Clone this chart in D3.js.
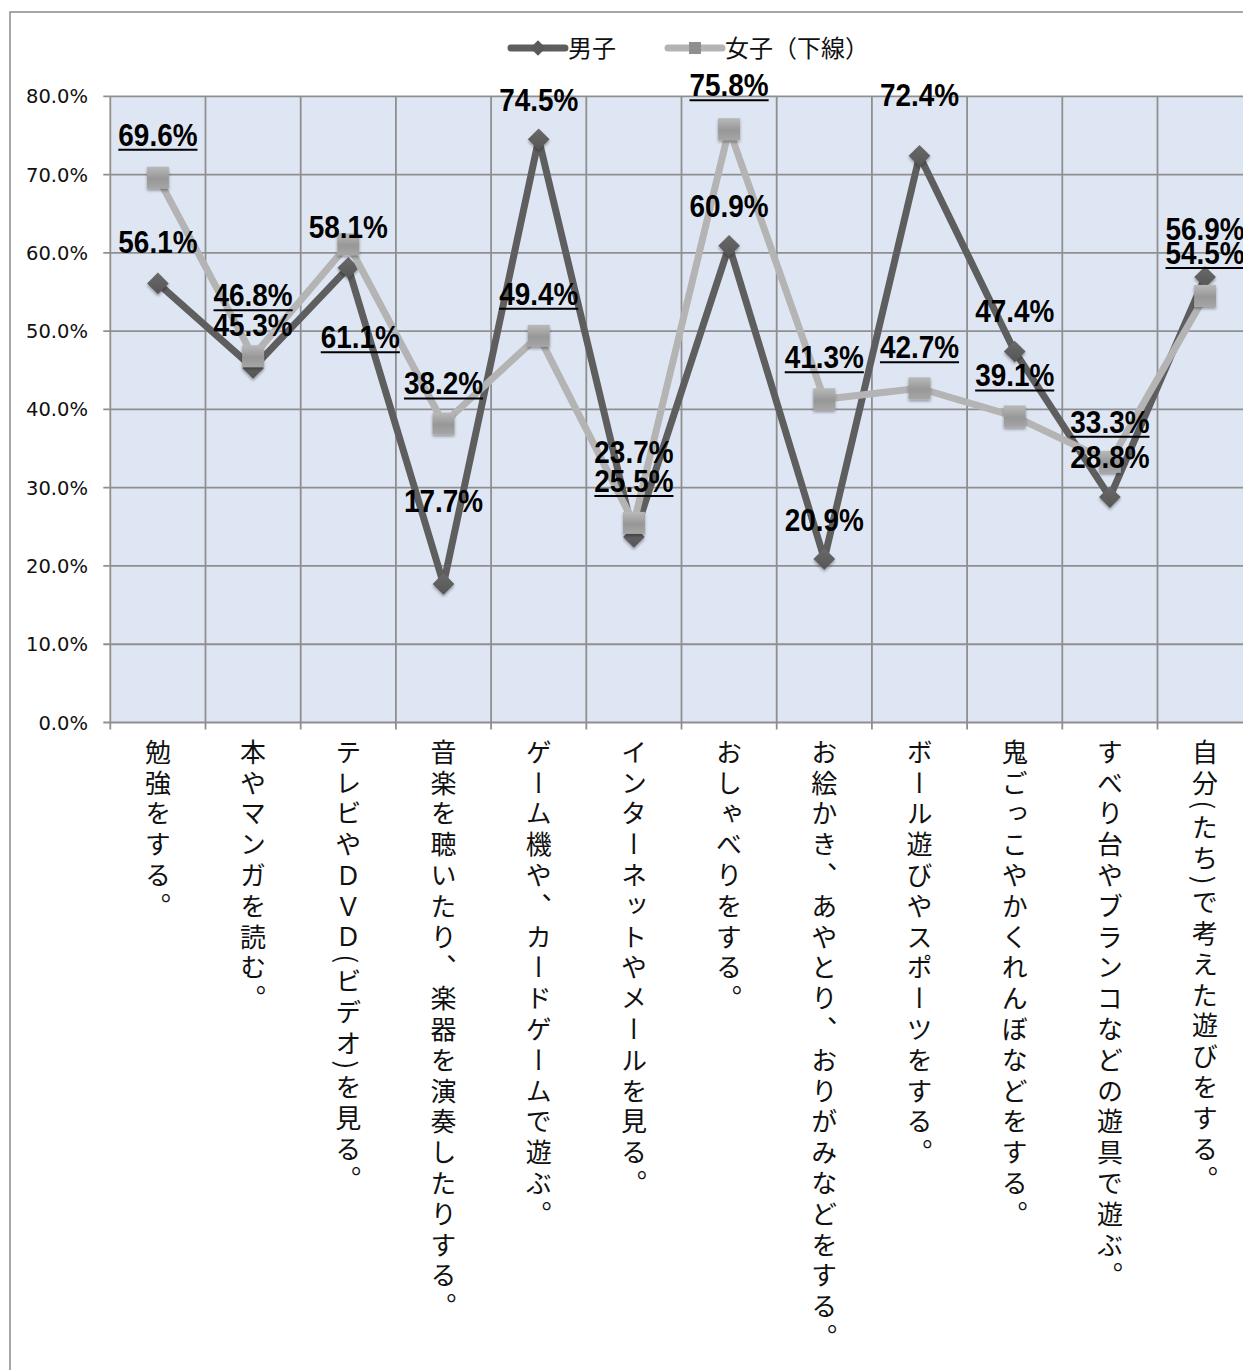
<!DOCTYPE html>
<html lang="ja">
<head>
<meta charset="utf-8">
<script src="https://cdn.jsdelivr.net/npm/d3@7/dist/d3.min.js"></script>
<style>
  html, body { margin: 0; padding: 0; background: #fff; }
  svg { display: block; }
  .cat { font-family: "Noto Sans CJK JP", sans-serif; font-size: 26px; fill: #111;
         writing-mode: vertical-rl; letter-spacing: 4.8px; }
  .ytick { font-family: "DejaVu Sans", sans-serif; font-size: 19.5px; fill: #111; }
  .legend { font-family: "Noto Sans CJK JP", sans-serif; font-size: 24px; fill: #111; }
  .val { font-family: "Liberation Sans", Arial, sans-serif; font-weight: bold; font-size: 31px; fill: #000; }
</style>
</head>
<body>
<svg id="chart" width="1243" height="1370"></svg>
<script>
// 放課後の過ごし方（男子・女子の割合）
const categories = [
  "勉強をする。",
  "本やマンガを読む。",
  "テレビやＤＶＤ(ビデオ)を見る。",
  "音楽を聴いたり、楽器を演奏したりする。",
  "ゲーム機や、カードゲームで遊ぶ。",
  "インターネットやメールを見る。",
  "おしゃべりをする。",
  "お絵かき、あやとり、おりがみなどをする。",
  "ボール遊びやスポーツをする。",
  "鬼ごっこやかくれんぼなどをする。",
  "すべり台やブランコなどの遊具で遊ぶ。",
  "自分(たち)で考えた遊びをする。"
];
const boys  = [56.1, 45.3, 58.1, 17.7, 74.5, 23.7, 60.9, 20.9, 72.4, 47.4, 28.8, 56.9];
const girls = [69.6, 46.8, 61.1, 38.2, 49.4, 25.5, 75.8, 41.3, 42.7, 39.1, 33.3, 54.5];
const yTicks = [0, 10, 20, 30, 40, 50, 60, 70, 80];
const seriesNames = ["男子", "女子（下線）"];

// Data-label placement relative to each marker (pixels)
const boysLabelDy  = [-41, -43, -41, -83, -39, -85, -40, -39, -61, -40, -40, -48];
const girlsLabelDy = [-43, -61,  93, -40, -42, -42, -44, -42, -41, -41, -40, -43];
const girlsLabelDx = [  0,   0,  12,   0,   0,   0,   0,   0,   0,   0,   0,   0];

const svg = d3.select("#chart");
const plot = { left: 110.3, top: 96.3, bottom: 722.5, band: 95.2 };

const x = d3.scaleBand()
  .domain(categories)
  .range([plot.left, plot.left + plot.band * categories.length])
  .padding(0);
const y = d3.scaleLinear().domain([0, 80]).range([plot.bottom, plot.top]);
const cx = d => x(d) + x.bandwidth() / 2;
const pct = v => d3.format(".1f")(v) + "%";

// defs: marker gradients and soft shadow
const defs = svg.append("defs");
const gSq = defs.append("linearGradient").attr("id", "sqGrad").attr("x1", 0).attr("y1", 0).attr("x2", 0).attr("y2", 1);
gSq.append("stop").attr("offset", "0%").attr("stop-color", "#b9b9b9");
gSq.append("stop").attr("offset", "55%").attr("stop-color", "#979797");
gSq.append("stop").attr("offset", "100%").attr("stop-color", "#a6a6a6");
const gDi = defs.append("linearGradient").attr("id", "diGrad").attr("x1", 0).attr("y1", 0).attr("x2", 0).attr("y2", 1);
gDi.append("stop").attr("offset", "0%").attr("stop-color", "#6a6a6a");
gDi.append("stop").attr("offset", "100%").attr("stop-color", "#555555");
const f = defs.append("filter").attr("id", "soft").attr("x", "-40%").attr("y", "-40%").attr("width", "180%").attr("height", "180%");
f.append("feGaussianBlur").attr("in", "SourceAlpha").attr("stdDeviation", 1.6).attr("result", "b");
f.append("feOffset").attr("in", "b").attr("dx", 0).attr("dy", 2).attr("result", "o");
f.append("feComponentTransfer").attr("in", "o").attr("result", "s")
  .append("feFuncA").attr("type", "linear").attr("slope", 0.35);
f.append("feGaussianBlur").attr("in", "SourceGraphic").attr("stdDeviation", 0.6).attr("result", "g");
const fm = f.append("feMerge");
fm.append("feMergeNode").attr("in", "s");
fm.append("feMergeNode").attr("in", "g");

// chart frame
svg.append("rect").attr("x", 10).attr("y", 12).attr("width", 1400).attr("height", 1500)
  .attr("fill", "#fff").attr("stroke", "#8a8a8a").attr("stroke-width", 1.5);

// plot background
svg.append("rect")
  .attr("x", plot.left).attr("y", plot.top)
  .attr("width", x.range()[1] - plot.left).attr("height", plot.bottom - plot.top)
  .attr("fill", "#dfe6f3");

// horizontal gridlines
svg.append("g").selectAll("line").data(yTicks).join("line")
  .attr("x1", plot.left - 7).attr("x2", x.range()[1])
  .attr("y1", d => y(d)).attr("y2", d => y(d))
  .attr("stroke", "#8f8f8f").attr("stroke-width", 1.8);

// vertical gridlines at category boundaries + tick marks below axis
const bounds = d3.range(categories.length + 1).map(i => plot.left + i * x.bandwidth());
svg.append("g").selectAll("line").data(bounds).join("line")
  .attr("x1", d => d).attr("x2", d => d)
  .attr("y1", plot.top).attr("y2", plot.bottom + 7)
  .attr("stroke", "#8f8f8f").attr("stroke-width", 1.8);

// y tick labels
svg.append("g").selectAll("text").data(yTicks).join("text")
  .attr("class", "ytick")
  .attr("x", 88).attr("y", d => y(d) + 7)
  .attr("text-anchor", "end")
  .text(d => d3.format(".1f")(d) + "%");

// category labels (vertical)
svg.append("g").selectAll("text").data(categories).join("text")
  .attr("class", "cat")
  .attr("x", d => cx(d)).attr("y", 739)
  .text(d => d);

// lines
const line = d3.line().x((d, i) => cx(categories[i])).y(d => y(d));
svg.append("path").datum(boys).attr("d", line)
  .attr("fill", "none").attr("stroke", "#5e5e5e").attr("stroke-width", 7).attr("stroke-linejoin", "round");
// boys markers (diamonds)
svg.append("g").selectAll("path").data(boys).join("path")
  .attr("d", d3.symbol().type(d3.symbolDiamond2).size(300))
  .attr("transform", (d, i) => `translate(${cx(categories[i])},${y(d)})`)
  .attr("fill", "url(#diGrad)").attr("filter", "url(#soft)");

svg.append("path").datum(girls).attr("d", line)
  .attr("fill", "none").attr("stroke", "#b4b4b4").attr("stroke-width", 7).attr("stroke-linejoin", "round");
// girls markers (squares)
svg.append("g").selectAll("rect").data(girls).join("rect")
  .attr("x", (d, i) => cx(categories[i]) - 11).attr("y", d => y(d) - 11)
  .attr("width", 22).attr("height", 22)
  .attr("fill", "url(#sqGrad)").attr("filter", "url(#soft)");

// data labels
function addLabel(g, tx, ty, txt, underline) {
  const grp = g.append("g").attr("transform", `translate(${tx},${ty}) scale(0.9,1)`);
  const t = grp.append("text").attr("class", "val").attr("text-anchor", "middle")
    .attr("y", 11).text(txt);
  if (underline) {
    const w = t.node().getComputedTextLength();
    grp.append("line").attr("x1", -w / 2).attr("x2", w / 2)
      .attr("y1", 15).attr("y2", 15).attr("stroke", "#000").attr("stroke-width", 2);
  }
}
const labels = svg.append("g");
boys.forEach((v, i) => addLabel(labels, cx(categories[i]), y(v) + boysLabelDy[i], pct(v), false));
girls.forEach((v, i) => addLabel(labels, cx(categories[i]) + girlsLabelDx[i], y(v) + girlsLabelDy[i], pct(v), true));

// legend
const lg = svg.append("g");
const legendItems = [
  { name: seriesNames[0], x0: 511, color: "#5e5e5e", kind: "diamond" },
  { name: seriesNames[1], x0: 668, color: "#b4b4b4", kind: "square" }
];
legendItems.forEach(it => {
  lg.append("line").attr("x1", it.x0).attr("x2", it.x0 + 54).attr("y1", 48).attr("y2", 48)
    .attr("stroke", it.color).attr("stroke-width", 7).attr("stroke-linecap", "round");
  if (it.kind === "diamond") {
    lg.append("path").attr("d", d3.symbol().type(d3.symbolDiamond2).size(150))
      .attr("transform", `translate(${it.x0 + 27},48)`).attr("fill", "#595959");
  } else {
    lg.append("rect").attr("x", it.x0 + 21).attr("y", 42).attr("width", 12).attr("height", 12).attr("fill", "#8f8f8f");
  }
  lg.append("text").attr("class", "legend").attr("x", it.x0 + 57).attr("y", 57).text(it.name);
});
</script>
</body>
</html>
